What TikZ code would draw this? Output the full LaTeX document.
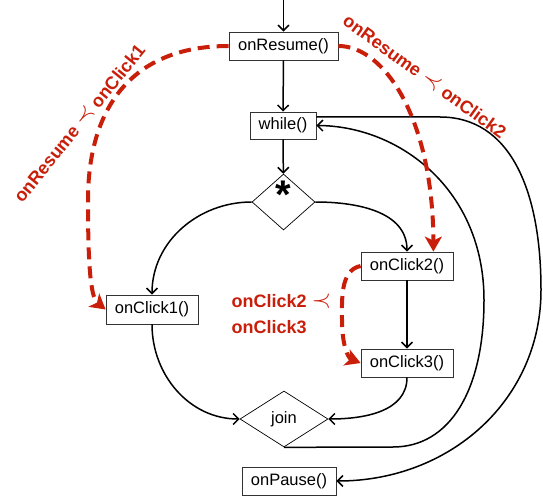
\documentclass[tikz,border=0pt]{standalone}
\usepackage{fontspec}
\setmainfont{Liberation Sans}
\usetikzlibrary{shapes.geometric,arrows.meta}
\definecolor{redc}{RGB}{200,30,10}
\newcommand{\precsym}{\raisebox{0.5pt}{\scalebox{1.45}{$\prec$}}}
\begin{document}
\begin{tikzpicture}[x=1pt,y=-1pt,
  box/.style={draw=black!80, line width=0.8pt, fill=white, inner sep=0pt, font=\fontsize{16.5}{18}\selectfont},
  dia/.style={draw, diamond, line width=0.7pt, inner sep=0pt, fill=white},
  flow/.style={line width=1.5pt, -{Straight Barb[length=5.5pt,width=11pt]}},
  reddash/.style={draw=redc, line width=4pt, dash pattern=on 12pt off 7pt, -{Stealth[length=15pt,width=17pt,inset=4pt]}},
  redlabel/.style={text=redc, font=\fontsize{18}{26}\selectfont\bfseries}
]
\useasboundingbox (0,0) rectangle (543,497);

\node[box, minimum width=109pt, minimum height=28pt] (res) at (283.5,46) {onResume()};
\node[box, minimum width=66pt, minimum height=27pt] (wh) at (283,125.5) {while()};
\node[dia, minimum width=63pt, minimum height=56pt] (star) at (283.5,202) {};
\node[font=\fontsize{40}{40}\selectfont\bfseries, inner sep=0pt] (starsym) at (283.5,195) {*};
\node[box, minimum width=92pt, minimum height=29pt] (oc1) at (152,309.5) {onClick1()};
\node[box, minimum width=92pt, minimum height=28pt] (oc2) at (407,266) {onClick2()};
\node[box, minimum width=92pt, minimum height=28pt] (oc3) at (407,363) {onClick3()};
\node[dia, minimum width=88pt, minimum height=56pt, font=\fontsize{16.5}{18}\selectfont] (join) at (284,419) {join};
\node[box, minimum width=94pt, minimum height=28pt] (pause) at (289,481) {onPause()};

\coordinate (entry) at (283.5,0);
\draw[flow] (entry) -- (res);
\draw[flow] (res) -- (wh);
\draw[flow] (wh) -- (star);
\draw[flow] (star.west) to[out=180,in=90] (oc1.north);
\draw[flow] (star.east) to[out=0,in=90] (oc2.north);
\draw[flow] (oc2) -- (oc3);
\draw[flow] (oc1.south) to[out=270,in=180] (join.west);
\draw[flow] (oc3.south) to[out=270,in=0] (join.east);
\coordinate (jr) at (393,447);
\draw[flow] (join.south) -- (jr) .. controls (450,447) and (484,390) .. (484,300) .. controls (484,190) and (400,126) .. (wh.east);
\coordinate (wa) at (440,117);
\draw[flow] ([yshift=8.5pt]wh.east) -- (wa) .. controls (510,117) and (541,190) .. (541,290) .. controls (541,400) and (450,481) .. (pause.east);

\draw[reddash] (res.west) .. controls (130,46) and (88,110) .. (88,200) .. controls (88,260) and (90,297) .. (oc1.west);
\draw[reddash] (res.east) .. controls (385,46) and (433,120) .. ([xshift=-20pt]oc2.north east);
\draw[reddash] (oc2.west) .. controls (340,270) and (342,300) .. (342,320) .. controls (342,345) and (348,358) .. (oc3.west);

\node[redlabel, rotate=51] (lab1) at (79,123) {onResume \precsym{} onClick1};
\node[redlabel, rotate=-36] (lab2) at (425,76) {onResume \precsym{} onClick2};
\node[redlabel, align=left, anchor=west] (lab3) at (228,314) {onClick2 \precsym\\onClick3};
\end{tikzpicture}
\end{document}
